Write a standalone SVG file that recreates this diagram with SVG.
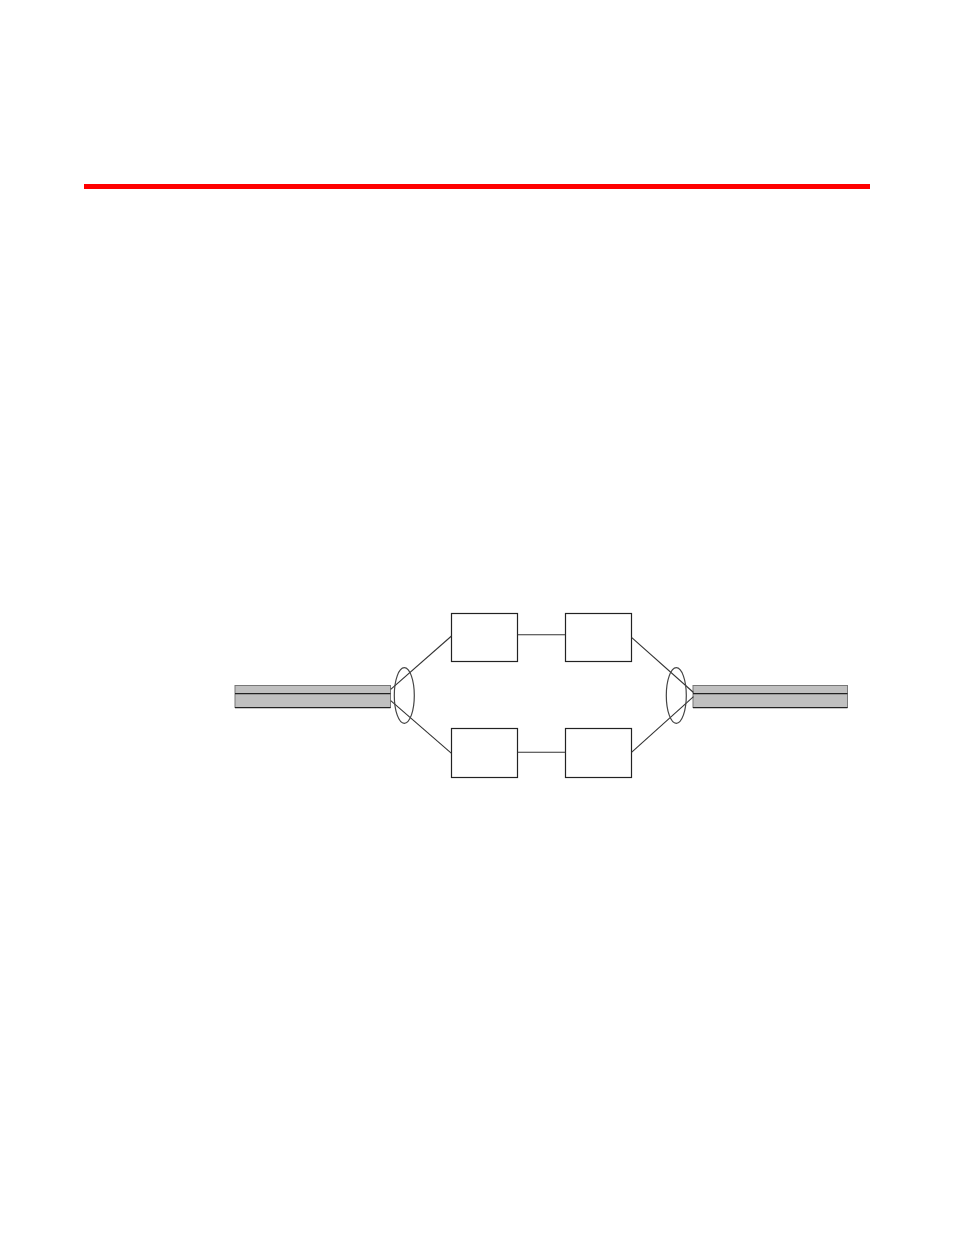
<svg xmlns="http://www.w3.org/2000/svg" width="954" height="1235" viewBox="0 0 954 1235">
<style>
.box{fill:#fff;stroke:#222;stroke-width:1.2}
.bar{fill:#c0c0c0;stroke:#777;stroke-width:1}
.barline{stroke:#222;stroke-width:1.2}
.ell{fill:none;stroke:#444;stroke-width:1.2}
.conn{stroke:#333;stroke-width:1.1;fill:none}
</style>
<rect x="0" y="0" width="954" height="1235" fill="#fff"/>
<rect x="84" y="184" width="786" height="5" fill="#ff0000"/>
<g id="left-trunk">
<rect class="bar" x="235" y="685.5" width="155.5" height="22"/>
<line class="barline" x1="235" y1="693.7" x2="390.5" y2="693.7"/>
<line class="barline" x1="235" y1="707.6" x2="390.5" y2="707.6"/>
</g>
<g id="right-trunk">
<rect class="bar" x="693" y="685.5" width="154.5" height="22"/>
<line class="barline" x1="693" y1="693.7" x2="847.5" y2="693.7"/>
<line class="barline" x1="693" y1="707.6" x2="847.5" y2="707.6"/>
</g>
<g id="box-top-left"><rect class="box" x="451.5" y="613.5" width="66" height="48"/></g>
<g id="box-top-right"><rect class="box" x="565.5" y="613.5" width="66" height="48"/></g>
<g id="box-bottom-left"><rect class="box" x="451.5" y="728.5" width="66" height="49"/></g>
<g id="box-bottom-right"><rect class="box" x="565.5" y="728.5" width="66" height="49"/></g>
<g id="connectors">
<line class="conn" x1="390.7" y1="689.3" x2="451.5" y2="636"/>
<line class="conn" x1="390.7" y1="700.7" x2="451.5" y2="753.3"/>
<line class="conn" x1="517.5" y1="634.8" x2="565.5" y2="634.8"/>
<line class="conn" x1="517.5" y1="752.3" x2="565.5" y2="752.3"/>
<line class="conn" x1="631.5" y1="637.3" x2="693.5" y2="692.5"/>
<line class="conn" x1="631.5" y1="752.3" x2="693.5" y2="696.7"/>
</g>
<g id="lag-left"><ellipse class="ell" cx="404.3" cy="695.5" rx="10" ry="27.8"/></g>
<g id="lag-right"><ellipse class="ell" cx="676.3" cy="695.5" rx="10" ry="27.8"/></g>
</svg>
